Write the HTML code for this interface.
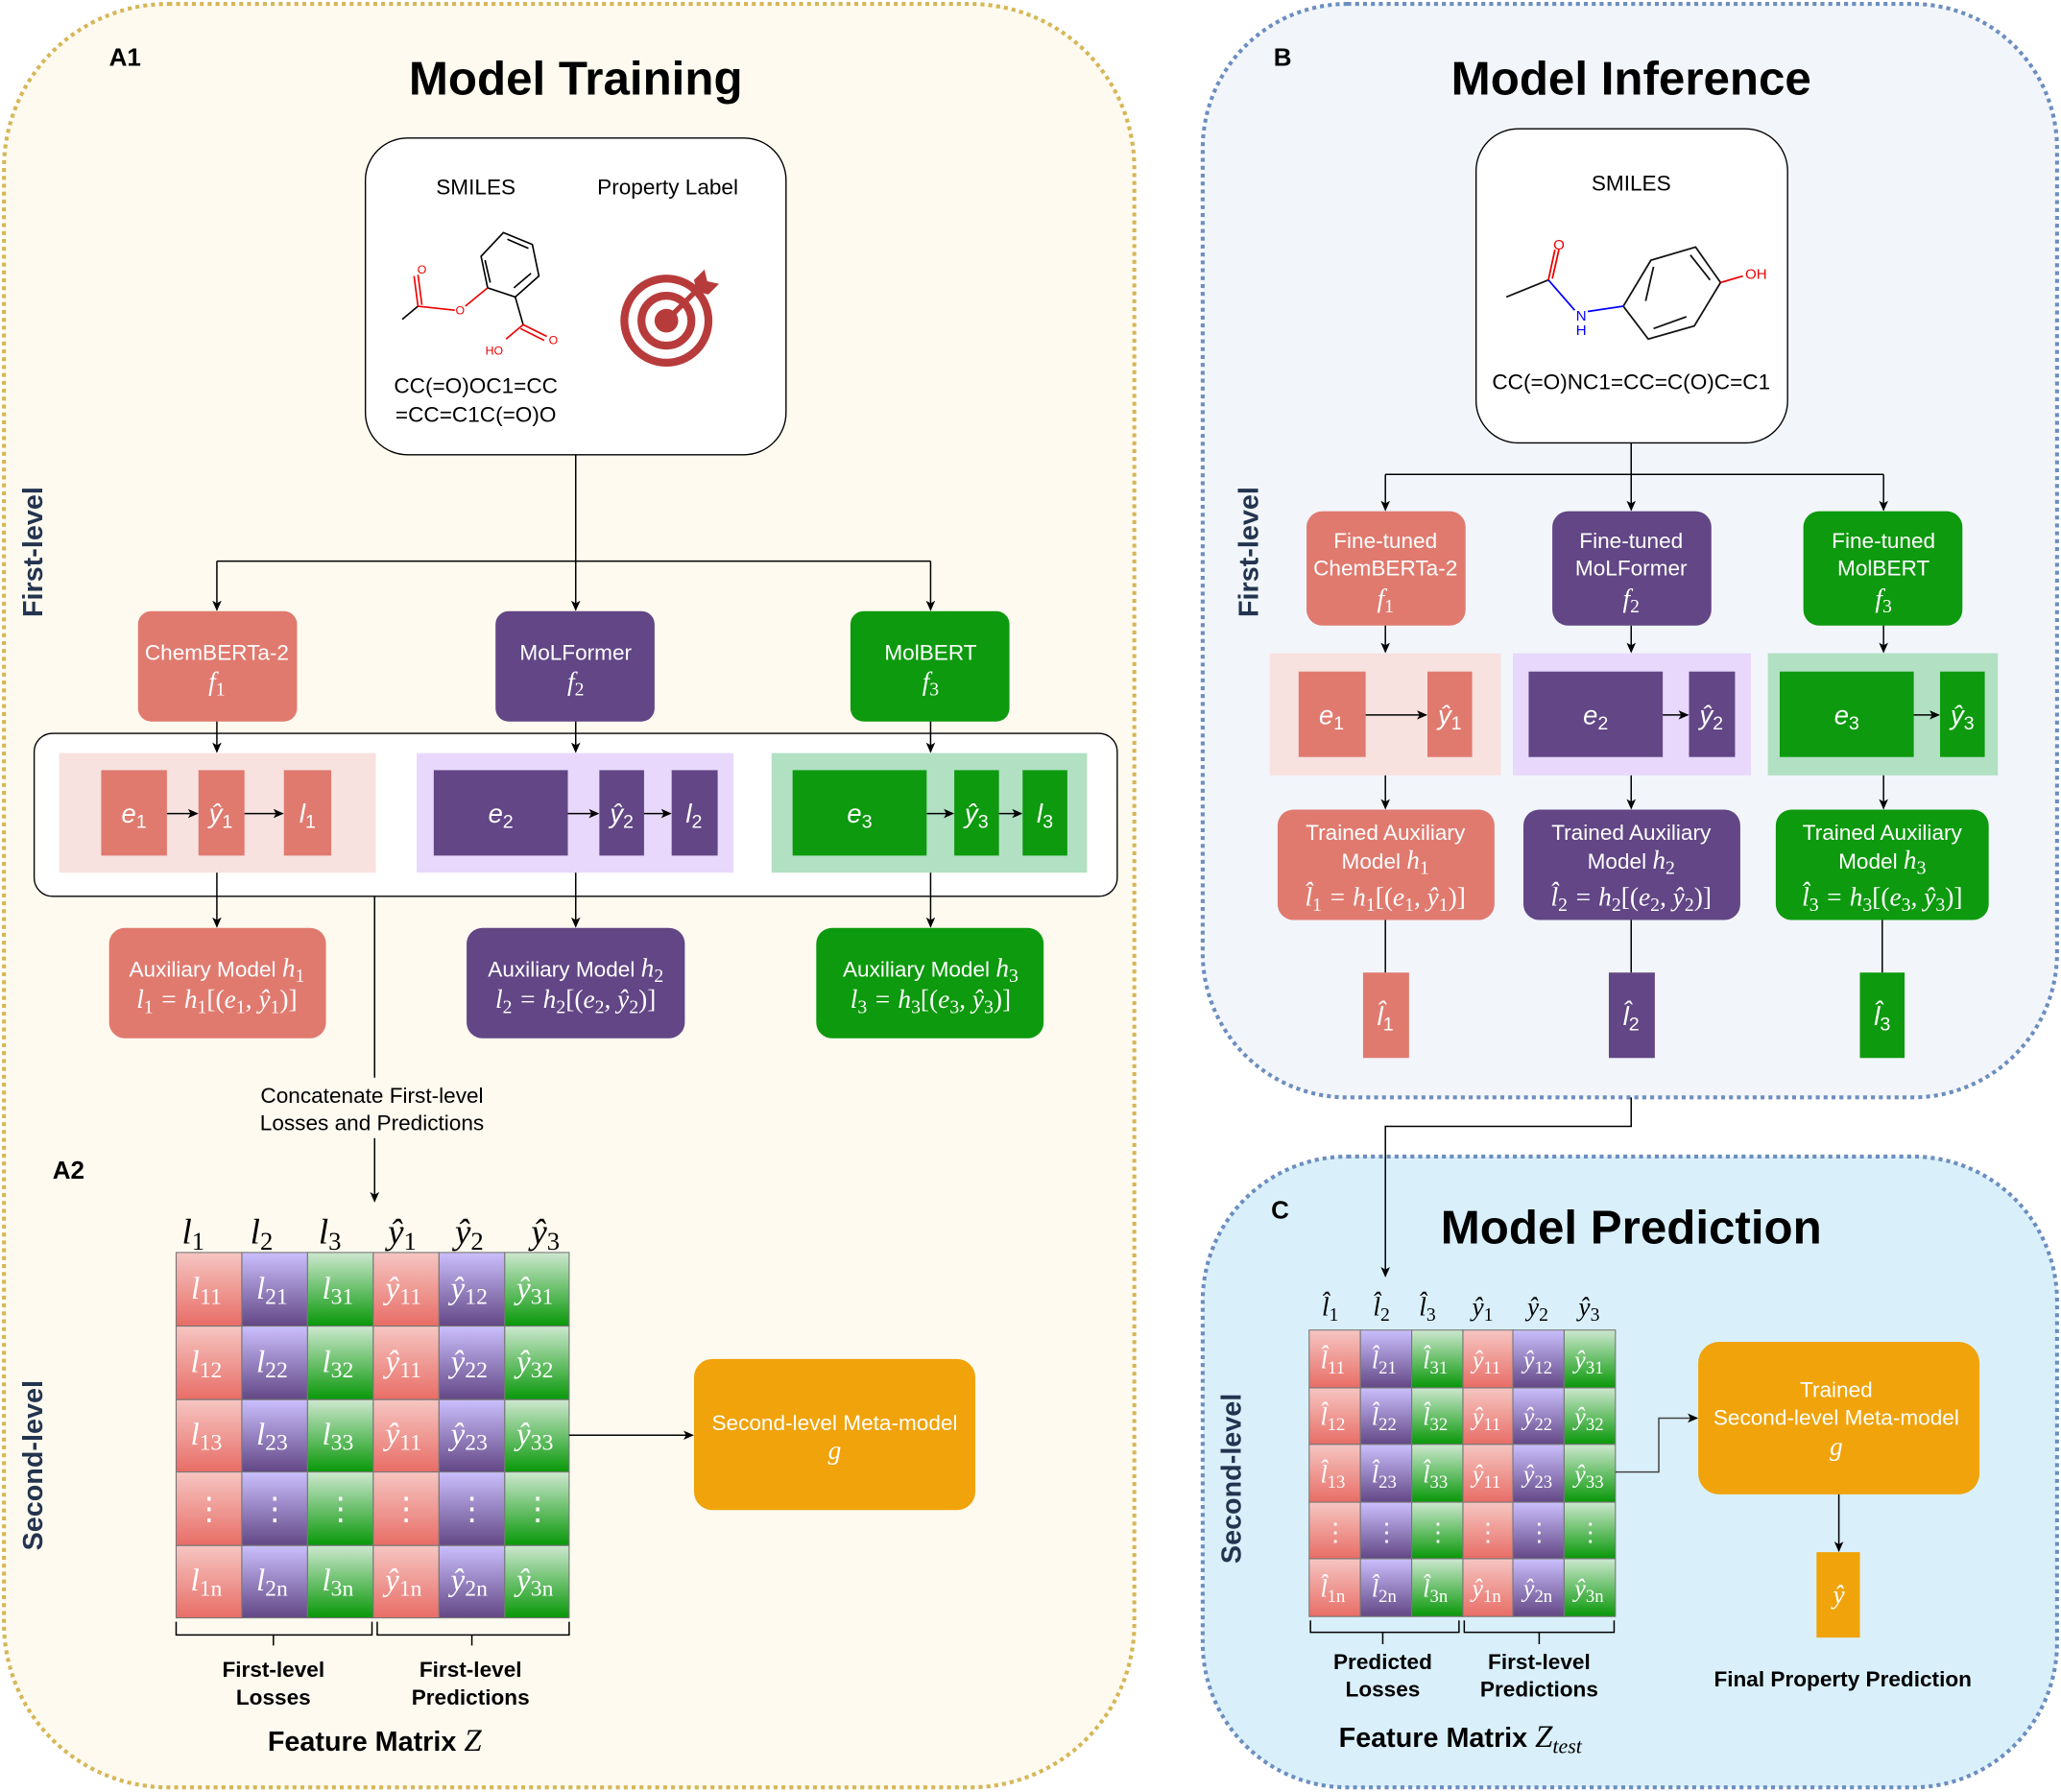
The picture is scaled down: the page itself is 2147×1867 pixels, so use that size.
<!DOCTYPE html>
<html><head><meta charset="utf-8"><style>
html,body{margin:0;padding:0;background:#fff;}
svg{display:block;}
text{font-family:"Liberation Sans",sans-serif;}
.m{font-family:"Liberation Serif",serif;font-style:italic;}
.s{font-style:normal;font-size:0.72em;}
.mc{font-family:"Liberation Serif",serif;font-style:italic;fill:#fff;font-size:24px;text-anchor:middle;}
.mc2{font-family:"Liberation Serif",serif;font-style:italic;fill:#fff;font-size:19px;text-anchor:middle;}
.dt{font-style:normal;}
.hd{font-family:"Liberation Serif",serif;font-style:italic;fill:#000;font-size:27px;text-anchor:middle;}
.hd2{font-family:"Liberation Serif",serif;font-style:italic;fill:#000;font-size:20px;text-anchor:middle;}
.bt{fill:#fff;font-size:16.5px;text-anchor:middle;}
.bt.m{font-size:20px;}
.ln{stroke:#000;stroke-width:1.1;fill:none;}
</style></head><body>
<svg width="2147" height="1867" viewBox="0 0 1568 1363.5" preserveAspectRatio="none" xmlns="http://www.w3.org/2000/svg">
<defs>
<marker id="ar" markerWidth="8" markerHeight="8" refX="7" refY="4" orient="auto" markerUnits="userSpaceOnUse"><path d="M0,0.5 L8,4 L0,7.5 L2,4 z" fill="#000"/></marker>
<linearGradient id="gr" x1="0" y1="0" x2="0" y2="1"><stop offset="0" stop-color="#f6c6c2"/><stop offset="1" stop-color="#e86d66"/></linearGradient>
<linearGradient id="gp" x1="0" y1="0" x2="0" y2="1"><stop offset="0" stop-color="#cbbffd"/><stop offset="1" stop-color="#634785"/></linearGradient>
<linearGradient id="gg" x1="0" y1="0" x2="0" y2="1"><stop offset="0" stop-color="#cde8cf"/><stop offset="1" stop-color="#089808"/></linearGradient>
</defs>
<rect width="1568" height="1363.5" fill="#fff"/>
<rect x="3" y="3" width="860" height="1357" rx="125" fill="#fefaef" stroke="#d6b656" stroke-width="3" stroke-dasharray="3 3"/>
<rect x="915" y="3" width="650" height="832" rx="110" fill="#f2f6fb" stroke="#6c8ebf" stroke-width="3" stroke-dasharray="3 3"/>
<rect x="915" y="880" width="650" height="480" rx="110" fill="#d9f0fb" stroke="#6c8ebf" stroke-width="3" stroke-dasharray="3 3"/>

<text x="438" y="72" font-size="36" font-weight="bold" text-anchor="middle">Model Training</text>
<text x="1241" y="72" font-size="36" font-weight="bold" text-anchor="middle">Model Inference</text>
<text x="1241" y="946" font-size="36" font-weight="bold" text-anchor="middle">Model Prediction</text>
<text x="83" y="50" font-size="19" font-weight="bold">A1</text>
<text x="969" y="50" font-size="19" font-weight="bold">B</text>
<text x="40" y="897" font-size="19" font-weight="bold">A2</text>
<text x="967" y="927" font-size="19" font-weight="bold">C</text>
<text transform="translate(32,420) rotate(-90)" font-size="21" font-weight="bold" fill="#23344f" text-anchor="middle">First-level</text>
<text transform="translate(32,1115) rotate(-90)" font-size="21" font-weight="bold" fill="#23344f" text-anchor="middle">Second-level</text>
<text transform="translate(957,420) rotate(-90)" font-size="21" font-weight="bold" fill="#23344f" text-anchor="middle">First-level</text>
<text transform="translate(944,1125) rotate(-90)" font-size="21" font-weight="bold" fill="#23344f" text-anchor="middle">Second-level</text>

<rect x="278" y="105" width="320" height="241" rx="32" fill="#fff" stroke="#000" stroke-width="1"/>
<text x="362" y="148" font-size="16.5" text-anchor="middle">SMILES</text>
<text x="508" y="148" font-size="16.5" text-anchor="middle">Property Label</text>
<text x="362" y="299" font-size="16.5" text-anchor="middle">CC(=O)OC1=CC</text>
<text x="362" y="321" font-size="16.5" text-anchor="middle">=CC=C1C(=O)O</text>
<g stroke="#000" stroke-width="1.2" fill="none">
<path d="M383,177 L405,186 L410,210 L392,226 L371,219 L366,195 Z"/>
<path d="M386,182 L402,189 M404,208 L391,219 M369,198 L373,215"/>
<path d="M392,226 L398,247"/>
<path d="M306,243 L318,233"/>
</g>
<g stroke="#e00" stroke-width="1.2" fill="none">
<path d="M371,219 L354,233"/>
<path d="M318,233 L346,236"/>
<path d="M318,233 L315,210 M321,232 L318,209"/>
<path d="M398,247 L416,256 M396,250 L414,259"/>
<path d="M398,247 L385,258"/>
</g>
<text x="321" y="208" font-size="9" fill="#e00" text-anchor="middle">O</text>
<text x="350" y="239" font-size="9" fill="#e00" text-anchor="middle">O</text>
<text x="421" y="262" font-size="9" fill="#e00" text-anchor="middle">O</text>
<text x="376" y="270" font-size="9" fill="#e00" text-anchor="middle">HO</text>
<g fill="none" stroke="#b83b3b" stroke-width="6">
<circle cx="507" cy="244" r="32"/><circle cx="507" cy="244" r="19"/>
</g>
<circle cx="507" cy="244" r="9" fill="#b83b3b"/>
<path d="M507,244 L532,219" stroke="#b83b3b" stroke-width="4"/>
<path d="M528,213 L536,205 L538,214 L547,216 L539,224 L530,222 Z" fill="#b83b3b"/>

<path class="ln" d="M438,346 V427"/>
<path class="ln" d="M165,427 H708"/>
<path class="ln" d="M165,427 V464" marker-end="url(#ar)"/>
<path class="ln" d="M438,427 V464" marker-end="url(#ar)"/>
<path class="ln" d="M708,427 V464" marker-end="url(#ar)"/>

<rect x="105" y="465" width="121" height="84" rx="10" fill="#e07a6f"/>
<rect x="377" y="465" width="121" height="84" rx="10" fill="#624685"/>
<rect x="647" y="465" width="121" height="84" rx="10" fill="#0d9a0e"/>
<text x="165" y="502" class="bt">ChemBERTa-2</text>
<text x="165" y="525" class="bt m">f<tspan class="s" dy="4">1</tspan></text>
<text x="438" y="502" class="bt">MoLFormer</text>
<text x="438" y="525" class="bt m">f<tspan class="s" dy="4">2</tspan></text>
<text x="708" y="502" class="bt">MolBERT</text>
<text x="708" y="525" class="bt m">f<tspan class="s" dy="4">3</tspan></text>

<rect x="26" y="558" width="824" height="124" rx="14" fill="#fff" stroke="#000" stroke-width="1"/>
<path class="ln" d="M165,549 V572" marker-end="url(#ar)"/>
<path class="ln" d="M438,549 V572" marker-end="url(#ar)"/>
<path class="ln" d="M708,549 V572" marker-end="url(#ar)"/>
<rect x="45" y="573" width="241" height="91" fill="#f7e2df"/>
<rect x="317" y="573" width="241" height="91" fill="#e8d8fb"/>
<rect x="587" y="573" width="240" height="91" fill="#b1e0c3"/>
<rect x="77" y="586" width="50" height="65" fill="#e07a6f"/>
<rect x="151" y="586" width="35" height="65" fill="#e07a6f"/>
<rect x="216" y="586" width="36" height="65" fill="#e07a6f"/>
<rect x="330" y="586" width="102" height="65" fill="#624685"/>
<rect x="456" y="586" width="34" height="65" fill="#624685"/>
<rect x="511" y="586" width="35" height="65" fill="#624685"/>
<rect x="603" y="586" width="102" height="65" fill="#0d9a0e"/>
<rect x="726" y="586" width="34" height="65" fill="#0d9a0e"/>
<rect x="778" y="586" width="34" height="65" fill="#0d9a0e"/>
<path class="ln" d="M127,619 H150" marker-end="url(#ar)"/>
<path class="ln" d="M186,619 H215" marker-end="url(#ar)"/>
<path class="ln" d="M432,619 H455" marker-end="url(#ar)"/>
<path class="ln" d="M490,619 H510" marker-end="url(#ar)"/>
<path class="ln" d="M705,619 H725" marker-end="url(#ar)"/>
<path class="ln" d="M760,619 H777" marker-end="url(#ar)"/>
<g class="bt m">
<text x="102" y="626">e<tspan class="s" dy="4">1</tspan></text>
<text x="168" y="626">ŷ<tspan class="s" dy="4">1</tspan></text>
<text x="234" y="626">l<tspan class="s" dy="4">1</tspan></text>
<text x="381" y="626">e<tspan class="s" dy="4">2</tspan></text>
<text x="473" y="626">ŷ<tspan class="s" dy="4">2</tspan></text>
<text x="528" y="626">l<tspan class="s" dy="4">2</tspan></text>
<text x="654" y="626">e<tspan class="s" dy="4">3</tspan></text>
<text x="743" y="626">ŷ<tspan class="s" dy="4">3</tspan></text>
<text x="795" y="626">l<tspan class="s" dy="4">3</tspan></text>
</g>
<path class="ln" d="M165,664 V705" marker-end="url(#ar)"/>
<path class="ln" d="M438,664 V705" marker-end="url(#ar)"/>
<path class="ln" d="M708,664 V705" marker-end="url(#ar)"/>
<rect x="83" y="706" width="165" height="84" rx="12" fill="#e07a6f"/>
<rect x="355" y="706" width="166" height="84" rx="12" fill="#624685"/>
<rect x="621" y="706" width="173" height="84" rx="12" fill="#0d9a0e"/>
<text x="165" y="743" class="bt">Auxiliary Model <tspan class="m" font-size="20">h<tspan class="s" dy="4">1</tspan></tspan></text>
<text x="165" y="767" class="bt m">l<tspan class="s" dy="4">1</tspan><tspan dy="-4"> = h</tspan><tspan class="s" dy="4">1</tspan><tspan dy="-4" style="font-style:normal">[(</tspan>e<tspan class="s" dy="4">1</tspan><tspan dy="-4">, ŷ</tspan><tspan class="s" dy="4">1</tspan><tspan dy="-4" style="font-style:normal">)]</tspan></text>
<text x="438" y="743" class="bt">Auxiliary Model <tspan class="m" font-size="20">h<tspan class="s" dy="4">2</tspan></tspan></text>
<text x="438" y="767" class="bt m">l<tspan class="s" dy="4">2</tspan><tspan dy="-4"> = h</tspan><tspan class="s" dy="4">2</tspan><tspan dy="-4" style="font-style:normal">[(</tspan>e<tspan class="s" dy="4">2</tspan><tspan dy="-4">, ŷ</tspan><tspan class="s" dy="4">2</tspan><tspan dy="-4" style="font-style:normal">)]</tspan></text>
<text x="708" y="743" class="bt">Auxiliary Model <tspan class="m" font-size="20">h<tspan class="s" dy="4">3</tspan></tspan></text>
<text x="708" y="767" class="bt m">l<tspan class="s" dy="4">3</tspan><tspan dy="-4"> = h</tspan><tspan class="s" dy="4">3</tspan><tspan dy="-4" style="font-style:normal">[(</tspan>e<tspan class="s" dy="4">3</tspan><tspan dy="-4">, ŷ</tspan><tspan class="s" dy="4">3</tspan><tspan dy="-4" style="font-style:normal">)]</tspan></text>

<path class="ln" d="M285,682 V820"/>
<text x="283" y="839" font-size="16.5" text-anchor="middle">Concatenate First-level</text>
<text x="283" y="860" font-size="16.5" text-anchor="middle">Losses and Predictions</text>
<path class="ln" d="M285,866 V914" marker-end="url(#ar)"/>

<g>
<text x="147" y="946" class="hd">l<tspan class="s" dy="5">1</tspan></text>
<text x="199" y="946" class="hd">l<tspan class="s" dy="5">2</tspan></text>
<text x="251" y="946" class="hd">l<tspan class="s" dy="5">3</tspan></text>
<text x="306" y="946" class="hd">ŷ<tspan class="s" dy="5">1</tspan></text>
<text x="357" y="946" class="hd">ŷ<tspan class="s" dy="5">2</tspan></text>
<text x="415" y="946" class="hd">ŷ<tspan class="s" dy="5">3</tspan></text>
<g stroke="#777" stroke-width="0.8">
<rect x="134" y="953" width="50" height="56" fill="url(#gr)"/><rect x="184" y="953" width="50" height="56" fill="url(#gp)"/><rect x="234" y="953" width="50" height="56" fill="url(#gg)"/><rect x="284" y="953" width="50" height="56" fill="url(#gr)"/><rect x="334" y="953" width="50" height="56" fill="url(#gp)"/><rect x="384" y="953" width="49" height="56" fill="url(#gg)"/>
<rect x="134" y="1009" width="50" height="56" fill="url(#gr)"/><rect x="184" y="1009" width="50" height="56" fill="url(#gp)"/><rect x="234" y="1009" width="50" height="56" fill="url(#gg)"/><rect x="284" y="1009" width="50" height="56" fill="url(#gr)"/><rect x="334" y="1009" width="50" height="56" fill="url(#gp)"/><rect x="384" y="1009" width="49" height="56" fill="url(#gg)"/>
<rect x="134" y="1065" width="50" height="55" fill="url(#gr)"/><rect x="184" y="1065" width="50" height="55" fill="url(#gp)"/><rect x="234" y="1065" width="50" height="55" fill="url(#gg)"/><rect x="284" y="1065" width="50" height="55" fill="url(#gr)"/><rect x="334" y="1065" width="50" height="55" fill="url(#gp)"/><rect x="384" y="1065" width="49" height="55" fill="url(#gg)"/>
<rect x="134" y="1120" width="50" height="56" fill="url(#gr)"/><rect x="184" y="1120" width="50" height="56" fill="url(#gp)"/><rect x="234" y="1120" width="50" height="56" fill="url(#gg)"/><rect x="284" y="1120" width="50" height="56" fill="url(#gr)"/><rect x="334" y="1120" width="50" height="56" fill="url(#gp)"/><rect x="384" y="1120" width="49" height="56" fill="url(#gg)"/>
<rect x="134" y="1176" width="50" height="55" fill="url(#gr)"/><rect x="184" y="1176" width="50" height="55" fill="url(#gp)"/><rect x="234" y="1176" width="50" height="55" fill="url(#gg)"/><rect x="284" y="1176" width="50" height="55" fill="url(#gr)"/><rect x="334" y="1176" width="50" height="55" fill="url(#gp)"/><rect x="384" y="1176" width="49" height="55" fill="url(#gg)"/>
</g>
<text x="157" y="988" class="mc">l<tspan class="s" dy="4">11</tspan></text>
<text x="207" y="988" class="mc">l<tspan class="s" dy="4">21</tspan></text>
<text x="257" y="988" class="mc">l<tspan class="s" dy="4">31</tspan></text>
<text x="307" y="988" class="mc">ŷ<tspan class="s" dy="4">11</tspan></text>
<text x="357" y="988" class="mc">ŷ<tspan class="s" dy="4">12</tspan></text>
<text x="407" y="988" class="mc">ŷ<tspan class="s" dy="4">31</tspan></text>
<text x="157" y="1044" class="mc">l<tspan class="s" dy="4">12</tspan></text>
<text x="207" y="1044" class="mc">l<tspan class="s" dy="4">22</tspan></text>
<text x="257" y="1044" class="mc">l<tspan class="s" dy="4">32</tspan></text>
<text x="307" y="1044" class="mc">ŷ<tspan class="s" dy="4">11</tspan></text>
<text x="357" y="1044" class="mc">ŷ<tspan class="s" dy="4">22</tspan></text>
<text x="407" y="1044" class="mc">ŷ<tspan class="s" dy="4">32</tspan></text>
<text x="157" y="1099" class="mc">l<tspan class="s" dy="4">13</tspan></text>
<text x="207" y="1099" class="mc">l<tspan class="s" dy="4">23</tspan></text>
<text x="257" y="1099" class="mc">l<tspan class="s" dy="4">33</tspan></text>
<text x="307" y="1099" class="mc">ŷ<tspan class="s" dy="4">11</tspan></text>
<text x="357" y="1099" class="mc">ŷ<tspan class="s" dy="4">23</tspan></text>
<text x="407" y="1099" class="mc">ŷ<tspan class="s" dy="4">33</tspan></text>
<text x="159" y="1156" class="mc dt">⋮</text><text x="209" y="1156" class="mc dt">⋮</text><text x="259" y="1156" class="mc dt">⋮</text><text x="309" y="1156" class="mc dt">⋮</text><text x="359" y="1156" class="mc dt">⋮</text><text x="409" y="1156" class="mc dt">⋮</text>
<text x="157" y="1210" class="mc">l<tspan class="s" dy="4">1n</tspan></text>
<text x="207" y="1210" class="mc">l<tspan class="s" dy="4">2n</tspan></text>
<text x="257" y="1210" class="mc">l<tspan class="s" dy="4">3n</tspan></text>
<text x="307" y="1210" class="mc">ŷ<tspan class="s" dy="4">1n</tspan></text>
<text x="357" y="1210" class="mc">ŷ<tspan class="s" dy="4">2n</tspan></text>
<text x="407" y="1210" class="mc">ŷ<tspan class="s" dy="4">3n</tspan></text>
</g>
<path class="ln" d="M134,1234 V1244 H283 V1234 M208,1244 V1252 M287,1234 V1244 H433 V1234 M359,1244 V1252"/>
<text x="208" y="1276" font-size="16.5" font-weight="bold" text-anchor="middle">First-level</text>
<text x="208" y="1297" font-size="16.5" font-weight="bold" text-anchor="middle">Losses</text>
<text x="358" y="1276" font-size="16.5" font-weight="bold" text-anchor="middle">First-level</text>
<text x="358" y="1297" font-size="16.5" font-weight="bold" text-anchor="middle">Predictions</text>
<text x="285" y="1332" font-size="21" font-weight="bold" text-anchor="middle">Feature Matrix <tspan class="m" font-weight="normal" font-size="24">Z</tspan></text>
<path class="ln" d="M433,1092 H527" marker-end="url(#ar)"/>
<rect x="528" y="1034" width="214" height="115" rx="14" fill="#f0a30a"/>
<text x="635" y="1088" class="bt">Second-level Meta-model</text>
<text x="635" y="1110" class="bt m">g</text>

<rect x="1123" y="98" width="237" height="239" rx="32" fill="#fff" stroke="#000" stroke-width="1"/>
<text x="1241" y="145" font-size="16.5" text-anchor="middle">SMILES</text>
<text x="1241" y="296" font-size="16.5" text-anchor="middle">CC(=O)NC1=CC=C(O)C=C1</text>
<g stroke="#111" stroke-width="1.3" fill="none">
<path d="M1235,233 L1256,198 L1290,188 L1309,215 L1289,248 L1254,258 Z"/>
<path d="M1252,229 L1258,203 M1286,194 L1301,213 M1283,241 L1258,250"/>
<path d="M1146,226 L1178,213"/>
</g>
<path d="M1178,213 L1198,236 M1208,237 L1235,233" stroke="#00f" stroke-width="1.3"/>
<path d="M1178,213 L1183,190 M1181,212 L1186,190" stroke="#e00" stroke-width="1.3"/>
<path d="M1309,215 L1326,210" stroke="#e00" stroke-width="1.3"/>
<text x="1186" y="190" font-size="11" fill="#e00" text-anchor="middle">O</text>
<text x="1336" y="212" font-size="11" fill="#e00" text-anchor="middle">OH</text>
<text x="1203" y="244" font-size="11" fill="#00f" text-anchor="middle">N</text>
<text x="1203" y="255" font-size="11" fill="#00f" text-anchor="middle">H</text>

<path class="ln" d="M1241,337 V388" marker-end="url(#ar)"/>
<path class="ln" d="M1054,361 H1433"/>
<path class="ln" d="M1054,361 V388" marker-end="url(#ar)"/>
<path class="ln" d="M1433,361 V388" marker-end="url(#ar)"/>
<rect x="994" y="389" width="121" height="87" rx="12" fill="#e07a6f"/>
<rect x="1181" y="389" width="121" height="87" rx="12" fill="#624685"/>
<rect x="1372" y="389" width="121" height="87" rx="12" fill="#0d9a0e"/>
<text x="1054" y="417" class="bt">Fine-tuned</text><text x="1054" y="438" class="bt">ChemBERTa-2</text>
<text x="1054" y="462" class="bt m">f<tspan class="s" dy="4">1</tspan></text>
<text x="1241" y="417" class="bt">Fine-tuned</text><text x="1241" y="438" class="bt">MoLFormer</text>
<text x="1241" y="462" class="bt m">f<tspan class="s" dy="4">2</tspan></text>
<text x="1433" y="417" class="bt">Fine-tuned</text><text x="1433" y="438" class="bt">MolBERT</text>
<text x="1433" y="462" class="bt m">f<tspan class="s" dy="4">3</tspan></text>
<path class="ln" d="M1054,476 V496" marker-end="url(#ar)"/>
<path class="ln" d="M1241,476 V496" marker-end="url(#ar)"/>
<path class="ln" d="M1433,476 V496" marker-end="url(#ar)"/>
<rect x="966" y="497" width="176" height="93" fill="#f7e2df"/>
<rect x="1151" y="497" width="181" height="93" fill="#e8d8fb"/>
<rect x="1345" y="497" width="175" height="93" fill="#b1e0c3"/>
<rect x="988" y="511" width="51" height="65" fill="#e07a6f"/>
<rect x="1086" y="511" width="34" height="65" fill="#e07a6f"/>
<rect x="1163" y="511" width="102" height="65" fill="#624685"/>
<rect x="1285" y="511" width="35" height="65" fill="#624685"/>
<rect x="1354" y="511" width="102" height="65" fill="#0d9a0e"/>
<rect x="1476" y="511" width="34" height="65" fill="#0d9a0e"/>
<path class="ln" d="M1039,544 H1085" marker-end="url(#ar)"/>
<path class="ln" d="M1265,544 H1284" marker-end="url(#ar)"/>
<path class="ln" d="M1456,544 H1475" marker-end="url(#ar)"/>
<g class="bt m">
<text x="1013" y="551">e<tspan class="s" dy="4">1</tspan></text>
<text x="1103" y="551">ŷ<tspan class="s" dy="4">1</tspan></text>
<text x="1214" y="551">e<tspan class="s" dy="4">2</tspan></text>
<text x="1302" y="551">ŷ<tspan class="s" dy="4">2</tspan></text>
<text x="1405" y="551">e<tspan class="s" dy="4">3</tspan></text>
<text x="1493" y="551">ŷ<tspan class="s" dy="4">3</tspan></text>
</g>
<path class="ln" d="M1054,590 V615" marker-end="url(#ar)"/>
<path class="ln" d="M1241,590 V615" marker-end="url(#ar)"/>
<path class="ln" d="M1433,590 V615" marker-end="url(#ar)"/>
<rect x="972" y="616" width="165" height="84" rx="12" fill="#e07a6f"/>
<rect x="1159" y="616" width="165" height="84" rx="12" fill="#624685"/>
<rect x="1351" y="616" width="162" height="84" rx="12" fill="#0d9a0e"/>
<text x="1054" y="639" class="bt">Trained Auxiliary</text>
<text x="1054" y="661" class="bt">Model <tspan class="m" font-size="20">h<tspan class="s" dy="4">1</tspan></tspan></text>
<text x="1054" y="689" class="bt m">l̂<tspan class="s" dy="4">1</tspan><tspan dy="-4"> = h</tspan><tspan class="s" dy="4">1</tspan><tspan dy="-4" style="font-style:normal">[(</tspan>e<tspan class="s" dy="4">1</tspan><tspan dy="-4">, ŷ</tspan><tspan class="s" dy="4">1</tspan><tspan dy="-4" style="font-style:normal">)]</tspan></text>
<text x="1241" y="639" class="bt">Trained Auxiliary</text>
<text x="1241" y="661" class="bt">Model <tspan class="m" font-size="20">h<tspan class="s" dy="4">2</tspan></tspan></text>
<text x="1241" y="689" class="bt m">l̂<tspan class="s" dy="4">2</tspan><tspan dy="-4"> = h</tspan><tspan class="s" dy="4">2</tspan><tspan dy="-4" style="font-style:normal">[(</tspan>e<tspan class="s" dy="4">2</tspan><tspan dy="-4">, ŷ</tspan><tspan class="s" dy="4">2</tspan><tspan dy="-4" style="font-style:normal">)]</tspan></text>
<text x="1432" y="639" class="bt">Trained Auxiliary</text>
<text x="1432" y="661" class="bt">Model <tspan class="m" font-size="20">h<tspan class="s" dy="4">3</tspan></tspan></text>
<text x="1432" y="689" class="bt m">l̂<tspan class="s" dy="4">3</tspan><tspan dy="-4"> = h</tspan><tspan class="s" dy="4">3</tspan><tspan dy="-4" style="font-style:normal">[(</tspan>e<tspan class="s" dy="4">3</tspan><tspan dy="-4">, ŷ</tspan><tspan class="s" dy="4">3</tspan><tspan dy="-4" style="font-style:normal">)]</tspan></text>
<path class="ln" d="M1054,700 V740"/>
<path class="ln" d="M1241,700 V740"/>
<path class="ln" d="M1432,700 V740"/>
<rect x="1037" y="740" width="35" height="65" fill="#e07a6f"/>
<rect x="1224" y="740" width="35" height="65" fill="#624685"/>
<rect x="1415" y="740" width="34" height="65" fill="#0d9a0e"/>
<g class="bt m">
<text x="1054" y="780">l̂<tspan class="s" dy="4">1</tspan></text>
<text x="1241" y="780">l̂<tspan class="s" dy="4">2</tspan></text>
<text x="1432" y="780">l̂<tspan class="s" dy="4">3</tspan></text>
</g>

<path class="ln" d="M1241,835 V857 H1054 V971" marker-end="url(#ar)"/>

<text x="1012" y="1001" class="hd2">l̂<tspan class="s" dy="4">1</tspan></text>
<text x="1051" y="1001" class="hd2">l̂<tspan class="s" dy="4">2</tspan></text>
<text x="1086" y="1001" class="hd2">l̂<tspan class="s" dy="4">3</tspan></text>
<text x="1128" y="1001" class="hd2">ŷ<tspan class="s" dy="4">1</tspan></text>
<text x="1170" y="1001" class="hd2">ŷ<tspan class="s" dy="4">2</tspan></text>
<text x="1209" y="1001" class="hd2">ŷ<tspan class="s" dy="4">3</tspan></text>
<g stroke="#777" stroke-width="0.8">
<rect x="996" y="1012" width="39" height="44" fill="url(#gr)"/><rect x="1035" y="1012" width="39" height="44" fill="url(#gp)"/><rect x="1074" y="1012" width="39" height="44" fill="url(#gg)"/><rect x="1113" y="1012" width="38" height="44" fill="url(#gr)"/><rect x="1151" y="1012" width="39" height="44" fill="url(#gp)"/><rect x="1190" y="1012" width="39" height="44" fill="url(#gg)"/>
<rect x="996" y="1056" width="39" height="43" fill="url(#gr)"/><rect x="1035" y="1056" width="39" height="43" fill="url(#gp)"/><rect x="1074" y="1056" width="39" height="43" fill="url(#gg)"/><rect x="1113" y="1056" width="38" height="43" fill="url(#gr)"/><rect x="1151" y="1056" width="39" height="43" fill="url(#gp)"/><rect x="1190" y="1056" width="39" height="43" fill="url(#gg)"/>
<rect x="996" y="1099" width="39" height="44" fill="url(#gr)"/><rect x="1035" y="1099" width="39" height="44" fill="url(#gp)"/><rect x="1074" y="1099" width="39" height="44" fill="url(#gg)"/><rect x="1113" y="1099" width="38" height="44" fill="url(#gr)"/><rect x="1151" y="1099" width="39" height="44" fill="url(#gp)"/><rect x="1190" y="1099" width="39" height="44" fill="url(#gg)"/>
<rect x="996" y="1143" width="39" height="43" fill="url(#gr)"/><rect x="1035" y="1143" width="39" height="43" fill="url(#gp)"/><rect x="1074" y="1143" width="39" height="43" fill="url(#gg)"/><rect x="1113" y="1143" width="38" height="43" fill="url(#gr)"/><rect x="1151" y="1143" width="39" height="43" fill="url(#gp)"/><rect x="1190" y="1143" width="39" height="43" fill="url(#gg)"/>
<rect x="996" y="1186" width="39" height="44" fill="url(#gr)"/><rect x="1035" y="1186" width="39" height="44" fill="url(#gp)"/><rect x="1074" y="1186" width="39" height="44" fill="url(#gg)"/><rect x="1113" y="1186" width="38" height="44" fill="url(#gr)"/><rect x="1151" y="1186" width="39" height="44" fill="url(#gp)"/><rect x="1190" y="1186" width="39" height="44" fill="url(#gg)"/>
</g>
<text x="1014" y="1041" class="mc2">l̂<tspan class="s" dy="4">11</tspan></text>
<text x="1053" y="1041" class="mc2">l̂<tspan class="s" dy="4">21</tspan></text>
<text x="1092" y="1041" class="mc2">l̂<tspan class="s" dy="4">31</tspan></text>
<text x="1131" y="1041" class="mc2">ŷ<tspan class="s" dy="4">11</tspan></text>
<text x="1170" y="1041" class="mc2">ŷ<tspan class="s" dy="4">12</tspan></text>
<text x="1209" y="1041" class="mc2">ŷ<tspan class="s" dy="4">31</tspan></text>
<text x="1014" y="1084" class="mc2">l̂<tspan class="s" dy="4">12</tspan></text>
<text x="1053" y="1084" class="mc2">l̂<tspan class="s" dy="4">22</tspan></text>
<text x="1092" y="1084" class="mc2">l̂<tspan class="s" dy="4">32</tspan></text>
<text x="1131" y="1084" class="mc2">ŷ<tspan class="s" dy="4">11</tspan></text>
<text x="1170" y="1084" class="mc2">ŷ<tspan class="s" dy="4">22</tspan></text>
<text x="1209" y="1084" class="mc2">ŷ<tspan class="s" dy="4">32</tspan></text>
<text x="1014" y="1128" class="mc2">l̂<tspan class="s" dy="4">13</tspan></text>
<text x="1053" y="1128" class="mc2">l̂<tspan class="s" dy="4">23</tspan></text>
<text x="1092" y="1128" class="mc2">l̂<tspan class="s" dy="4">33</tspan></text>
<text x="1131" y="1128" class="mc2">ŷ<tspan class="s" dy="4">11</tspan></text>
<text x="1170" y="1128" class="mc2">ŷ<tspan class="s" dy="4">23</tspan></text>
<text x="1209" y="1128" class="mc2">ŷ<tspan class="s" dy="4">33</tspan></text>
<text x="1016" y="1172" class="mc2 dt">⋮</text><text x="1055" y="1172" class="mc2 dt">⋮</text><text x="1094" y="1172" class="mc2 dt">⋮</text><text x="1132" y="1172" class="mc2 dt">⋮</text><text x="1171" y="1172" class="mc2 dt">⋮</text><text x="1210" y="1172" class="mc2 dt">⋮</text>
<text x="1014" y="1215" class="mc2">l̂<tspan class="s" dy="4">1n</tspan></text>
<text x="1053" y="1215" class="mc2">l̂<tspan class="s" dy="4">2n</tspan></text>
<text x="1092" y="1215" class="mc2">l̂<tspan class="s" dy="4">3n</tspan></text>
<text x="1131" y="1215" class="mc2">ŷ<tspan class="s" dy="4">1n</tspan></text>
<text x="1170" y="1215" class="mc2">ŷ<tspan class="s" dy="4">2n</tspan></text>
<text x="1209" y="1215" class="mc2">ŷ<tspan class="s" dy="4">3n</tspan></text>
<path class="ln" d="M997,1233 V1242 H1110 V1233 M1052,1242 V1251 M1114,1233 V1242 H1228 V1233 M1171,1242 V1251"/>
<text x="1052" y="1270" font-size="16.5" font-weight="bold" text-anchor="middle">Predicted</text>
<text x="1052" y="1291" font-size="16.5" font-weight="bold" text-anchor="middle">Losses</text>
<text x="1171" y="1270" font-size="16.5" font-weight="bold" text-anchor="middle">First-level</text>
<text x="1171" y="1291" font-size="16.5" font-weight="bold" text-anchor="middle">Predictions</text>
<text x="1111" y="1329" font-size="21" font-weight="bold" text-anchor="middle">Feature Matrix <tspan class="m" font-weight="normal" font-size="24">Z</tspan><tspan class="m" font-weight="normal" font-size="16" dy="5">test</tspan></text>
<path d="M1229,1120 H1262 V1079 H1291" stroke="#444" stroke-width="1.1" fill="none" marker-end="url(#ar)"/>
<rect x="1292" y="1021" width="214" height="116" rx="16" fill="#f0a30a"/>
<text x="1397" y="1063" class="bt">Trained</text>
<text x="1397" y="1084" class="bt">Second-level Meta-model</text>
<text x="1397" y="1107" class="bt m">g</text>
<path class="ln" d="M1399,1137 V1180" marker-end="url(#ar)"/>
<rect x="1382" y="1181" width="33" height="65" fill="#f0a30a"/>
<text x="1399" y="1220" class="bt m">ŷ</text>
<text x="1402" y="1283" font-size="16.5" font-weight="bold" text-anchor="middle">Final Property Prediction</text>
</svg>
</body></html>
